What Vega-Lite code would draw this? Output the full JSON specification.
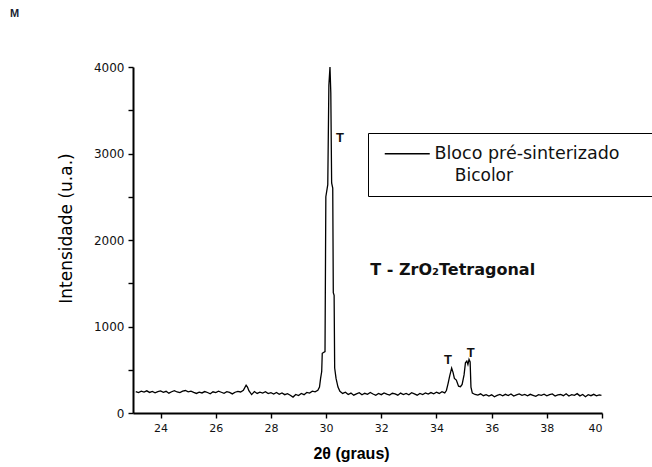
{
  "$schema": "https://vega.github.io/schema/vega-lite/v6.json",
  "width": 469,
  "height": 346,
  "autosize": "none",
  "padding": {"left": 133, "top": 67, "right": 50, "bottom": 54},
  "background": "white",
  "title": {"text": "M", "anchor": "start", "frame": "group", "dx": -123, "offset": 42, "fontSize": 11, "fontWeight": "bold", "font": "Liberation Sans", "color": "#1a1f33"},
  "config": {
    "view": {"stroke": null},
    "axis": {"domain": true, "domainColor": "#000000", "domainWidth": 2, "tickColor": "black", "tickWidth": 1.4, "tickSize": 5, "grid": false, "labelFont": "DejaVu Sans", "labelFontSize": 11, "labelColor": "#111", "labelPadding": 4, "titleColor": "black"}
  },
  "datasets": {
    "xrd": [
      {"t": 23.1, "i": 248}, {"t": 23.2, "i": 236}, {"t": 23.3, "i": 252}, {"t": 23.4, "i": 241}, {"t": 23.5, "i": 256},
      {"t": 23.6, "i": 238}, {"t": 23.7, "i": 250}, {"t": 23.8, "i": 233}, {"t": 23.9, "i": 247}, {"t": 24.0, "i": 255},
      {"t": 24.1, "i": 240}, {"t": 24.2, "i": 251}, {"t": 24.3, "i": 229}, {"t": 24.4, "i": 246}, {"t": 24.5, "i": 258},
      {"t": 24.6, "i": 243}, {"t": 24.7, "i": 236}, {"t": 24.8, "i": 252}, {"t": 24.9, "i": 260}, {"t": 25.0, "i": 245},
      {"t": 25.1, "i": 253}, {"t": 25.2, "i": 238}, {"t": 25.3, "i": 226}, {"t": 25.4, "i": 241}, {"t": 25.5, "i": 232},
      {"t": 25.6, "i": 248}, {"t": 25.7, "i": 237}, {"t": 25.8, "i": 222}, {"t": 25.9, "i": 245}, {"t": 26.0, "i": 236},
      {"t": 26.1, "i": 252}, {"t": 26.2, "i": 240}, {"t": 26.3, "i": 228}, {"t": 26.4, "i": 246}, {"t": 26.5, "i": 238},
      {"t": 26.6, "i": 221}, {"t": 26.7, "i": 240}, {"t": 26.8, "i": 250}, {"t": 26.9, "i": 243}, {"t": 27.0, "i": 262},
      {"t": 27.1, "i": 322}, {"t": 27.15, "i": 300}, {"t": 27.2, "i": 258}, {"t": 27.3, "i": 213}, {"t": 27.4, "i": 248},
      {"t": 27.5, "i": 226}, {"t": 27.6, "i": 240}, {"t": 27.7, "i": 231}, {"t": 27.8, "i": 246}, {"t": 27.9, "i": 224},
      {"t": 28.0, "i": 235}, {"t": 28.1, "i": 220}, {"t": 28.2, "i": 238}, {"t": 28.3, "i": 216}, {"t": 28.4, "i": 232},
      {"t": 28.5, "i": 212}, {"t": 28.6, "i": 224}, {"t": 28.7, "i": 206}, {"t": 28.8, "i": 184}, {"t": 28.9, "i": 214},
      {"t": 29.0, "i": 202}, {"t": 29.1, "i": 226}, {"t": 29.2, "i": 212}, {"t": 29.3, "i": 238}, {"t": 29.4, "i": 230},
      {"t": 29.5, "i": 252}, {"t": 29.6, "i": 244}, {"t": 29.7, "i": 262}, {"t": 29.76, "i": 300}, {"t": 29.8, "i": 400},
      {"t": 29.84, "i": 480}, {"t": 29.86, "i": 690}, {"t": 29.96, "i": 710}, {"t": 29.99, "i": 2500}, {"t": 30.06, "i": 2640},
      {"t": 30.1, "i": 3790}, {"t": 30.14, "i": 4000}, {"t": 30.17, "i": 3700}, {"t": 30.2, "i": 2660}, {"t": 30.24, "i": 2600},
      {"t": 30.26, "i": 1390}, {"t": 30.29, "i": 1360}, {"t": 30.31, "i": 520}, {"t": 30.36, "i": 400}, {"t": 30.43, "i": 300},
      {"t": 30.5, "i": 250}, {"t": 30.6, "i": 226}, {"t": 30.7, "i": 240}, {"t": 30.8, "i": 214}, {"t": 30.9, "i": 230},
      {"t": 31.0, "i": 206}, {"t": 31.1, "i": 222}, {"t": 31.2, "i": 235}, {"t": 31.3, "i": 210}, {"t": 31.4, "i": 228},
      {"t": 31.5, "i": 216}, {"t": 31.6, "i": 238}, {"t": 31.7, "i": 220}, {"t": 31.8, "i": 204}, {"t": 31.9, "i": 226},
      {"t": 32.0, "i": 212}, {"t": 32.1, "i": 232}, {"t": 32.2, "i": 218}, {"t": 32.3, "i": 208}, {"t": 32.4, "i": 228},
      {"t": 32.5, "i": 222}, {"t": 32.6, "i": 206}, {"t": 32.7, "i": 230}, {"t": 32.8, "i": 214}, {"t": 32.9, "i": 226},
      {"t": 33.0, "i": 210}, {"t": 33.1, "i": 234}, {"t": 33.2, "i": 220}, {"t": 33.3, "i": 206}, {"t": 33.4, "i": 226},
      {"t": 33.5, "i": 214}, {"t": 33.6, "i": 232}, {"t": 33.7, "i": 218}, {"t": 33.8, "i": 236}, {"t": 33.9, "i": 222},
      {"t": 34.0, "i": 240}, {"t": 34.1, "i": 226}, {"t": 34.2, "i": 246}, {"t": 34.3, "i": 232}, {"t": 34.36, "i": 260},
      {"t": 34.42, "i": 340}, {"t": 34.48, "i": 430}, {"t": 34.55, "i": 520}, {"t": 34.6, "i": 470}, {"t": 34.65, "i": 400},
      {"t": 34.72, "i": 380}, {"t": 34.8, "i": 310}, {"t": 34.87, "i": 304}, {"t": 34.93, "i": 330}, {"t": 35.0, "i": 440},
      {"t": 35.05, "i": 580}, {"t": 35.1, "i": 600}, {"t": 35.14, "i": 560}, {"t": 35.18, "i": 620}, {"t": 35.22, "i": 590},
      {"t": 35.25, "i": 300}, {"t": 35.3, "i": 230}, {"t": 35.4, "i": 214}, {"t": 35.5, "i": 206}, {"t": 35.6, "i": 222},
      {"t": 35.7, "i": 200}, {"t": 35.8, "i": 212}, {"t": 35.9, "i": 196}, {"t": 36.0, "i": 210}, {"t": 36.1, "i": 188},
      {"t": 36.2, "i": 204}, {"t": 36.3, "i": 214}, {"t": 36.4, "i": 198}, {"t": 36.5, "i": 216}, {"t": 36.6, "i": 202},
      {"t": 36.7, "i": 220}, {"t": 36.8, "i": 196}, {"t": 36.9, "i": 210}, {"t": 37.0, "i": 220}, {"t": 37.1, "i": 204},
      {"t": 37.2, "i": 214}, {"t": 37.3, "i": 198}, {"t": 37.4, "i": 216}, {"t": 37.5, "i": 204}, {"t": 37.6, "i": 192},
      {"t": 37.7, "i": 212}, {"t": 37.8, "i": 204}, {"t": 37.9, "i": 218}, {"t": 38.0, "i": 198}, {"t": 38.1, "i": 212},
      {"t": 38.2, "i": 220}, {"t": 38.3, "i": 196}, {"t": 38.4, "i": 210}, {"t": 38.5, "i": 214}, {"t": 38.6, "i": 200},
      {"t": 38.7, "i": 222}, {"t": 38.8, "i": 196}, {"t": 38.9, "i": 212}, {"t": 39.0, "i": 204}, {"t": 39.1, "i": 224},
      {"t": 39.2, "i": 198}, {"t": 39.3, "i": 214}, {"t": 39.4, "i": 188}, {"t": 39.5, "i": 212}, {"t": 39.6, "i": 200},
      {"t": 39.7, "i": 216}, {"t": 39.8, "i": 198}, {"t": 39.9, "i": 210}, {"t": 39.98, "i": 204}
    ],
    "peaks": [
      {"t": 30.5, "i": 3180, "label": "T"},
      {"t": 34.42, "i": 613, "label": "T"},
      {"t": 35.24, "i": 697, "label": "T"}
    ],
    "note": [
      {"t": 31.6, "i": 1653, "label": "T - ZrO₂Tetragonal"}
    ]
  },
  "layer": [
    {
      "data": {"name": "xrd"},
      "mark": {"type": "line", "strokeWidth": 1.3, "interpolate": "linear"},
      "encoding": {
        "x": {"field": "t", "type": "quantitative", "scale": {"domain": [23, 40], "nice": false, "zero": false},
          "axis": {"values": [24,25,26,27,28,29,30,31,32,33,34,35,36,37,38,39,40], "labelExpr": "datum.value % 2 == 0 ? datum.label : ''",
            "title": "2θ (graus)", "titleFont": "Liberation Sans", "titleFontSize": 16, "titleFontWeight": "bold", "titleX": 218, "titleY": 32, "titleBaseline": "top"}},
        "y": {"field": "i", "type": "quantitative", "scale": {"domain": [0, 4000], "nice": false},
          "axis": {"values": [0,500,1000,1500,2000,2500,3000,3500,4000], "labelExpr": "datum.value % 1000 == 0 ? datum.label : ''", "format": "d", "labelFontSize": 12,
            "title": "Intensidade (u.a.)", "titleFont": "DejaVu Sans", "titleFontSize": 17, "titleFontWeight": "normal", "titleX": -58, "titleY": 161, "titleAngle": -90, "titleBaseline": "bottom", "titleAlign": "center"}},
        "color": {"datum": "Bloco pré-sinterizado", "type": "nominal", "scale": {"range": ["black"]},
          "legend": {"orient": "none", "legendX": 235, "legendY": 66, "strokeColor": "black", "padding": 12,
            "symbolType": "M-8,0H1", "symbolSize": 100, "symbolStrokeWidth": 1.5, "symbolStrokeColor": "black", "symbolFillColor": "transparent", "symbolOffset": 36, "labelOffset": 1,
            "labelFont": "DejaVu Sans", "labelFontSize": 17.5, "labelColor": "#111", "labelLimit": 600,
            "labelExpr": "datum.label + '\u2800\u2800'",
            "title": "Bicolor", "titleOrient": "bottom", "titleAnchor": "middle", "titleAlign": "right", "titleFont": "DejaVu Sans", "titleFontSize": 17, "titleFontWeight": "normal", "titleColor": "#111", "titlePadding": 6, "titleLimit": 600}}
      }
    },
    {
      "data": {"name": "peaks"},
      "mark": {"type": "text", "font": "Liberation Sans", "fontSize": 13, "fontWeight": "bold", "align": "center", "baseline": "middle", "color": "#111"},
      "encoding": {
        "x": {"field": "t", "type": "quantitative"},
        "y": {"field": "i", "type": "quantitative"},
        "text": {"field": "label"}
      }
    },
    {
      "data": {"name": "note"},
      "mark": {"type": "text", "font": "DejaVu Sans", "fontSize": 16, "fontWeight": "bold", "align": "left", "baseline": "middle", "color": "#111"},
      "encoding": {
        "x": {"field": "t", "type": "quantitative"},
        "y": {"field": "i", "type": "quantitative"},
        "text": {"field": "label"}
      }
    }
  ]
}
